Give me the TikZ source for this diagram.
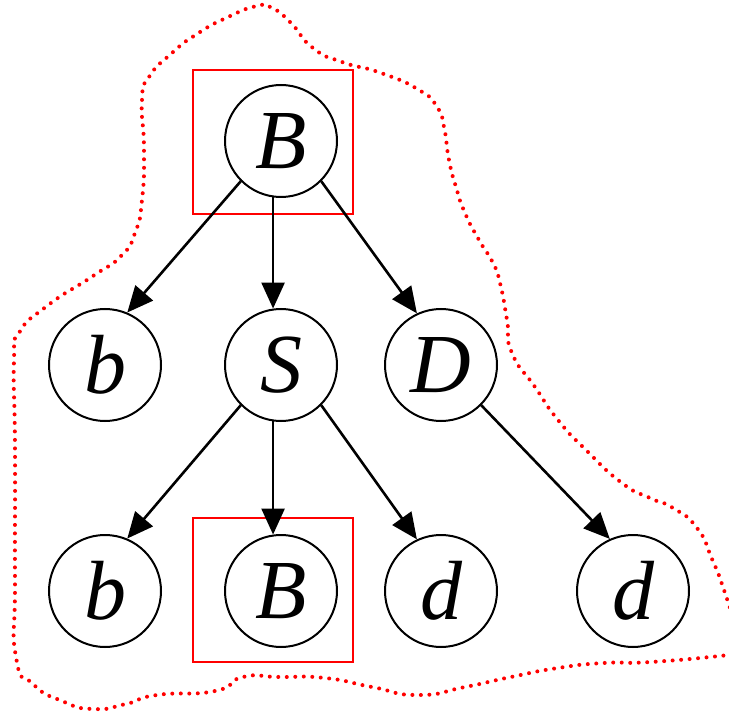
\documentclass[tikz,border=0pt]{standalone}
\usepackage{fontspec}
\setmainfont{Liberation Serif}
\usetikzlibrary{arrows.meta}
\begin{document}
\begin{tikzpicture}[x=1pt,y=-1pt,
  tree/.style={circle,draw,line width=2pt,minimum size=112pt,inner sep=0pt,
    font=\fontsize{84}{84}\selectfont\itshape},
  hilite/.style={draw=red,line width=2pt,minimum width=160pt,minimum height=144pt,inner sep=0pt},
  >={Triangle[length=26pt,width=23pt]}]
\useasboundingbox (0,0) rectangle (729,714);

% dotted region
\begin{scope}
\clip (0,0) rectangle (729,714);
\draw[red,line width=4pt,line cap=round,dash pattern=on 0pt off 8.5pt]
  plot[smooth,tension=1] coordinates {
  (745,652) (729,655) (651,662) (604,663) (558,668) (511,677)
  (465,687) (418,695) (372,687) (325,678) (279,677)
  (243,677) (215,691) (157,695) (126,704) (93,709)
  (62,701) (33,684) (16,657) (15,580) (15,450) (14,360) (19,333)
  (47,306) (93,276) (121,256) (135,233) (142,200) (144,150) (142,100)
  (149,77) (172,53) (197,34) (226,18) (257,6) (272,8) (291,23) (313,48)
  (342,62) (381,73) (419,90) (437,107) (444,127) (449,160) (456,187)
  (465,213) (479,240) (493,263) (500,283) (507,320) (512,353) (535,387)
  (558,420) (586,450) (622,483) (650,498) (673,508) (697,528)
  (712,559) (724,590) (740,640)};
\end{scope}

% boxes
\node[hilite] (hi1) at (273,142) {};
\node[hilite] (hi2) at (273,590) {};

% top
\node[tree] (1) at (281,141) {B};
% middle row
\node[tree] (2) at (105,365) {b};
\node[tree] (3) at (281,365) {S};
\node[tree] (4) at (441,365) {D};
% bottom row
\node[tree] (5) at (105,591) {b};
\node[tree] (6) at (281,591) {B};
\node[tree] (7) at (441,591) {d};
\node[tree] (8) at (633,591) {d};

\path[->,line width=2.6pt]
(1.225) edge (2.67)
(1.262) edge (3.98)
(1.-45) edge (4.115)
(3.225) edge (5.67)
(3.262) edge (6.98)
(3.-45) edge (7.115)
(4.-45) edge (8.114);

\end{tikzpicture}
\end{document}
